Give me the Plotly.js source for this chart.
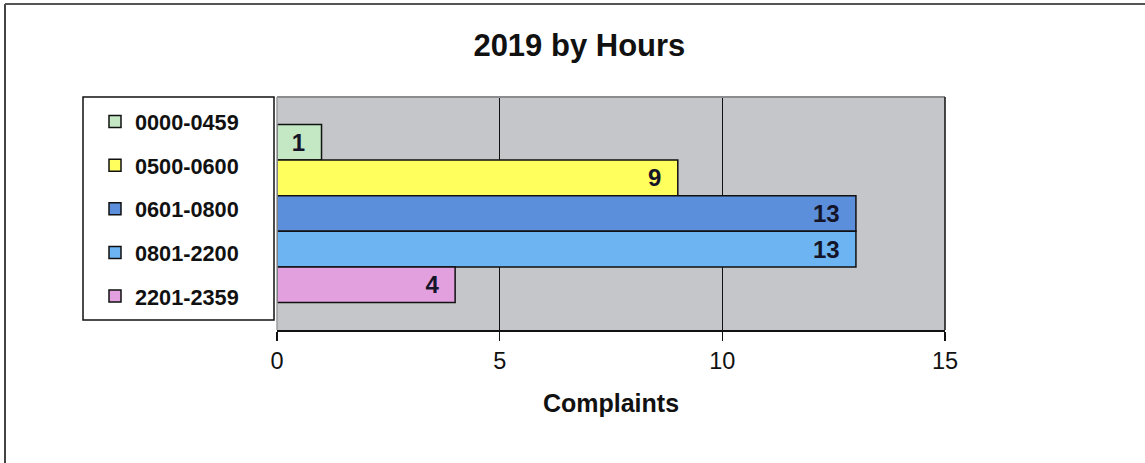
<!DOCTYPE html>
<html>
<head>
<meta charset="utf-8">
<script src="https://cdn.plot.ly/plotly-3.0.1.min.js"></script>
<style>
html,body{margin:0;padding:0;background:#fff;}
#chart{width:1145px;height:463px;}
</style>
</head>
<body>
<div id="chart"></div>
<script>
// Data
var categories = ['0000-0459', '0500-0600', '0601-0800', '0801-2200', '2201-2359'];
var complaints = [1, 9, 13, 13, 4];
var barColors = ['#c5e8c4', '#ffff5e', '#5b8fdc', '#6db5f2', '#e3a0de'];
var xTicks = [0, 5, 10, 15];

var W = 1145, H = 463;
var mL = 277, mR = 200, mT = 97, mB = 133;
var pw = W - mL - mR, ph = H - mT - mB;
function px(x) { return (x - mL) / pw; }
function py(y) { return (H - mB - y) / ph; }

var traces = categories.map(function (c, i) {
  return {
    type: 'bar',
    orientation: 'h',
    name: c,
    legendgroup: c,
    x: [complaints[i]],
    y: ['all'],
    text: [String(complaints[i])],
    texttemplate: '%{text}\u00a0\u00a0',
    textposition: 'inside',
    insidetextanchor: 'end',
    constraintext: 'none',
    textfont: {family: 'Liberation Sans, Arial, sans-serif', size: 24, color: '#15152a', weight: 'bold'},
    marker: {color: barColors[i], line: {color: '#111', width: 1.5}},
    hoverinfo: 'skip'
  };
});

var layout = {
  width: W, height: H,
  margin: {l: mL, r: mR, t: mT, b: mB},
  paper_bgcolor: '#ffffff',
  plot_bgcolor: '#c4c6c9',
  barmode: 'group',
  bargap: 0.236,
  bargroupgap: 0,
  showlegend: true,
  title: {
    text: '2019 by Hours',
    font: {family: 'Liberation Sans, Arial, sans-serif', size: 31, color: '#111', weight: 'bold'},
    x: 0.506, xanchor: 'center', y: 0.902, yanchor: 'middle'
  },
  xaxis: {
    range: [0, 15],
    tickvals: xTicks,
    ticktext: xTicks.map(String),
    showgrid: true, gridcolor: '#111', gridwidth: 1.5,
    zeroline: false,
    showline: true, linecolor: '#111', linewidth: 1.5,
    ticks: 'outside', ticklen: 9, tickwidth: 1.5, tickcolor: '#111',
    tickfont: {family: 'Liberation Sans, Arial, sans-serif', size: 23.5, color: '#111'},
    title: {text: 'Complaints', font: {family: 'Liberation Sans, Arial, sans-serif', size: 25, color: '#111', weight: 'bold'}, standoff: 22},
    fixedrange: true
  },
  yaxis: {
    type: 'category',
    range: [0.5, -0.5],
    showticklabels: false, showgrid: false, zeroline: false, showline: false, ticks: '',
    fixedrange: true
  },
  legend: {
    x: px(95), xanchor: 'left',
    y: py(101), yanchor: 'top',
    bgcolor: 'rgba(0,0,0,0)', borderwidth: 0,
    traceorder: 'grouped',
    tracegroupgap: 12.4,
    font: {family: 'Liberation Sans, Arial, sans-serif', size: 21.7, color: '#111', weight: 'bold'}
  },
  shapes: [
    // legend frame
    {type: 'rect', xref: 'paper', yref: 'paper', x0: px(83), x1: px(274), y0: py(320), y1: py(97), line: {color: '#111', width: 1.5}, fillcolor: 'rgba(0,0,0,0)', layer: 'above'},
    // plot area top, left and right edge
    {type: 'line', xref: 'paper', yref: 'paper', x0: 0, x1: 1, y0: 1, y1: 1, line: {color: '#8a8c8e', width: 2}},
    {type: 'line', xref: 'paper', yref: 'paper', x0: 0, x1: 0, y0: 0, y1: 1, line: {color: '#9a9c9e', width: 1.5}},
    {type: 'line', xref: 'paper', yref: 'paper', x0: 1, x1: 1, y0: 0, y1: 1, line: {color: '#111', width: 1.5}},
    // outer frame (left and top)
    {type: 'line', xref: 'paper', yref: 'paper', x0: px(5), x1: px(5), y0: py(463), y1: py(4), line: {color: '#444', width: 2}},
    {type: 'line', xref: 'paper', yref: 'paper', x0: px(5), x1: px(1145), y0: py(4), y1: py(4), line: {color: '#555', width: 2}}
  ]
};

Plotly.newPlot('chart', traces, layout, {displayModeBar: false, staticPlot: true});
</script>
</body>
</html>
